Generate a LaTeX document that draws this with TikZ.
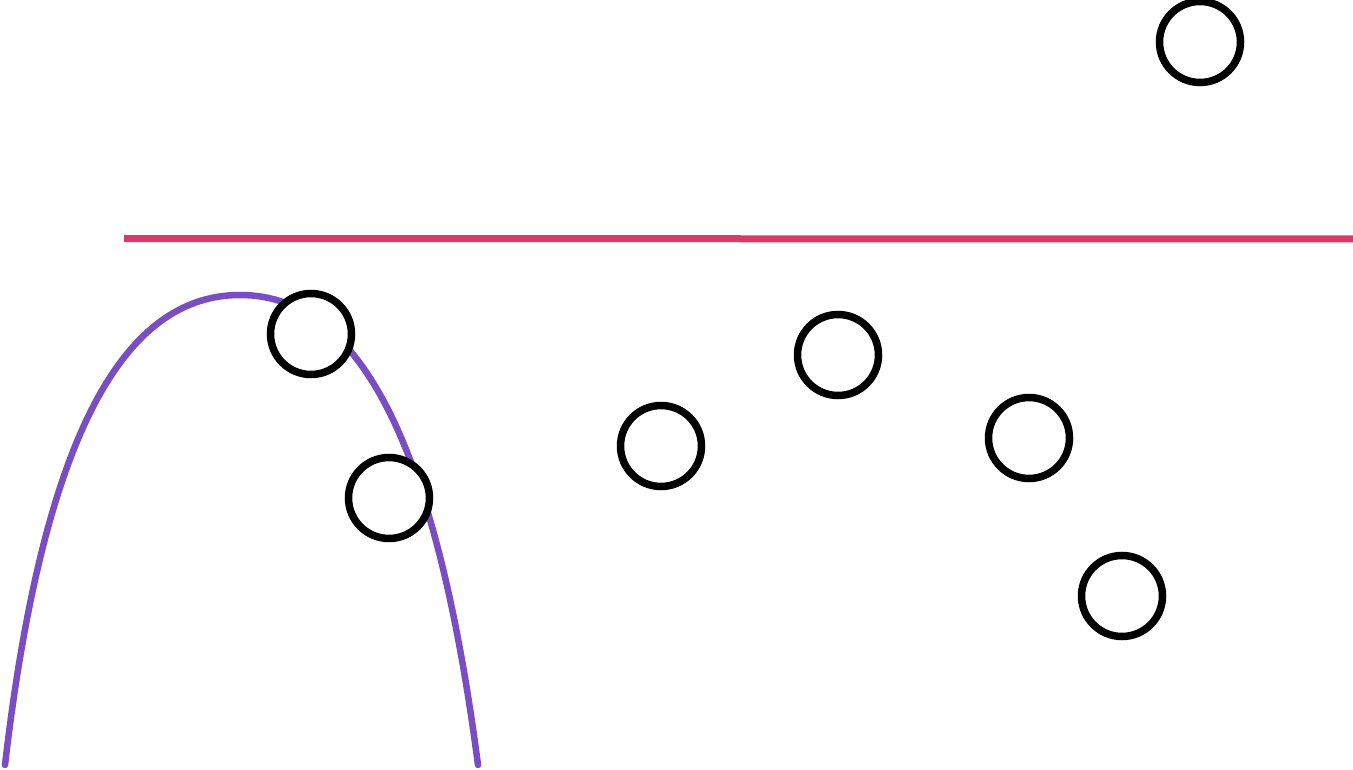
\documentclass[tikz,border=0pt]{standalone}
\definecolor{curvepurple}{HTML}{7A4EC2}
\definecolor{linered}{HTML}{D83A69}
\tikzset{
  dot/.style={circle, draw=black, line width=7.5pt, minimum size=81pt, inner sep=0pt, fill=white},
  curveline/.style={draw=curvepurple, line width=6.5pt, line cap=round},
  redline/.style={draw=linered, line width=7pt}
}
\begin{document}
\begin{tikzpicture}[x=1pt,y=-1pt]
\useasboundingbox (0,0) rectangle (1353,770);
% red line
\coordinate (rl) at (124,238.5);
\coordinate (rr) at (1353,239);
\draw[redline] (rl) -- (rr);
% purple curve
\coordinate (cl) at (5,765);
\coordinate (cp) at (240,295);
\coordinate (cr) at (478,765);
\draw[curveline] (cl) .. controls (45,420) and (130,295) .. (cp)
  .. controls (350,295) and (433,420) .. (cr);
% circles
\node[dot] (c1) at (1200,42) {};
\node[dot] (c2) at (311,334) {};
\node[dot] (c3) at (389,498) {};
\node[dot] (c4) at (661,446) {};
\node[dot] (c5) at (838,355) {};
\node[dot] (c6) at (1029,438) {};
\node[dot] (c7) at (1122,596) {};
\end{tikzpicture}
\end{document}
